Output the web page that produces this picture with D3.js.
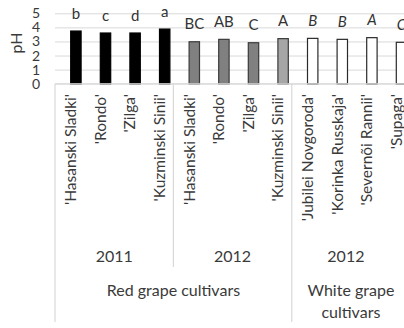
<!DOCTYPE html>
<html>
<head>
<meta charset="utf-8">
<script src="https://cdn.jsdelivr.net/npm/d3@7/dist/d3.min.js"></script>
<style>
  html, body { margin: 0; padding: 0; background: #fff; }
  svg { display: block; font-family: Lato, "Open Sans", sans-serif; }
</style>
</head>
<body>
<svg id="chart" width="404" height="328"></svg>
<script>
// Cultivars in plotting order
const cultivars = ["'Hasanski Sladki'", "'Rondo'", "'Zilga'", "'Kuzminski Sinii'",
                   "'Hasanski Sladki'", "'Rondo'", "'Zilga'", "'Kuzminski Sinii'",
                   "'Jubilei Novgoroda'", "'Korinka Russkaja'", "'Severnõi Rannii'", "'Supaga'"];
// Season of each bar
const years = ["2011", "2011", "2011", "2011", "2012", "2012", "2012", "2012", "2012", "2012", "2012", "2012"];
// Grape colour group of each bar
const grapeGroups = ["Red grape cultivars", "Red grape cultivars", "Red grape cultivars", "Red grape cultivars",
                     "Red grape cultivars", "Red grape cultivars", "Red grape cultivars", "Red grape cultivars",
                     "White grape cultivars", "White grape cultivars", "White grape cultivars", "White grape cultivars"];
// Juice pH
const pH = [3.74, 3.60, 3.60, 3.88, 2.98, 3.15, 2.91, 3.20, 3.22, 3.15, 3.27, 2.94];
// Significance letters
const letters = ["b", "c", "d", "a", "BC", "AB", "C", "A", "B", "B", "A", "C"];
const yTicks = [0, 1, 2, 3, 4, 5];

// Styling per bar
const fills = ["#000", "#000", "#000", "#000", "#808080", "#808080", "#808080", "#a6a6a6", "#fff", "#fff", "#fff", "#fff"];
const strokes = ["#000", "#000", "#000", "#000", "#3a3a3a", "#3a3a3a", "#3a3a3a", "#3a3a3a", "#2a2a2a", "#2a2a2a", "#2a2a2a", "#2a2a2a"];
const textColor = "#3a3a3a";
const gridColor = "#d9d9d9";

const svg = d3.select("#chart");
const left = 55, catW = 29.6;
const idx = d3.range(cultivars.length);

const x = d3.scaleBand().domain(idx).range([left, left + catW * idx.length]).padding(0);
const y = d3.scaleLinear().domain([0, 5]).range([83.7, 13.3]);
const barW = 10.4, barShift = 6.1;

// Horizontal gridlines and y tick labels
const yAxis = svg.append("g")
  .attr("transform", `translate(${left},0)`)
  .call(d3.axisLeft(y).tickValues(yTicks).tickFormat(d3.format("d"))
    .tickSize(-(404 - left)).tickPadding(15));
yAxis.select(".domain").remove();
yAxis.selectAll(".tick line").attr("stroke", gridColor).attr("stroke-width", 1);
yAxis.selectAll(".tick text")
  .attr("fill", textColor).attr("font-size", "14px").attr("font-family", "Lato");

svg.append("text")
  .attr("transform", `translate(16,43) rotate(-90)`)
  .attr("text-anchor", "middle").attr("dy", "0.35em")
  .attr("font-size", "16px").attr("fill", textColor)
  .text("pH");

// Bars
svg.append("g").selectAll("rect").data(idx).join("rect")
  .attr("x", i => x(i) + x.bandwidth() / 2 + barShift - barW / 2)
  .attr("y", i => y(pH[i]))
  .attr("width", barW)
  .attr("height", i => y(0) - y(pH[i]))
  .attr("fill", i => fills[i])
  .attr("stroke", i => strokes[i])
  .attr("stroke-width", 1.2);

// Letters above bars
svg.append("g").selectAll("text").data(idx).join("text")
  .attr("x", i => x(i) + x.bandwidth() / 2 + barShift)
  .attr("y", i => y(pH[i]) - 12.3)
  .attr("text-anchor", "middle")
  .attr("font-size", "15px")
  .attr("font-style", i => grapeGroups[i].startsWith("White") ? "italic" : "normal")
  .attr("fill", "#333")
  .text(i => letters[i]);

// Category axis line
svg.append("line")
  .attr("x1", left).attr("x2", 404).attr("y1", y(0)).attr("y2", y(0))
  .attr("stroke", gridColor);

// Rotated cultivar names
svg.append("g").selectAll("text").data(idx).join("text")
  .attr("transform", i => `translate(${x(i) + x.bandwidth() / 2 + 1},94) rotate(-90)`)
  .attr("text-anchor", "end").attr("dy", "0.35em")
  .attr("font-size", "15.5px").attr("fill", textColor)
  .text(i => cultivars[i]);

// Group spans for the two lower label rows
function spans(keys) {
  const out = [];
  keys.forEach((k, i) => {
    const prev = out[out.length - 1];
    const sameRun = prev && prev.key === k && (keys === years ? grapeGroups[i] === grapeGroups[prev.start] : true);
    if (sameRun) prev.end = i; else out.push({ key: k, start: i, end: i });
  });
  return out;
}
const yearSpans = spans(years);
const groupSpans = spans(grapeGroups);
const x0 = s => x(s.start);
const x1 = s => Math.min(x(s.end) + x.bandwidth(), 404);

// Divider lines
const dividers = svg.append("g").attr("stroke", gridColor).attr("stroke-width", 1.2);
dividers.append("line").attr("x1", left).attr("x2", left).attr("y1", y(0)).attr("y2", 322);
yearSpans.slice(1).forEach(s => {
  const isGroupStart = groupSpans.some(g => g.start === s.start);
  dividers.append("line").attr("x1", x0(s)).attr("x2", x0(s))
    .attr("y1", y(0)).attr("y2", isGroupStart ? 322 : 267);
});

// Year labels
svg.append("g").selectAll("text").data(yearSpans).join("text")
  .attr("x", s => (x0(s) + x1(s)) / 2 - (x1(s) === 404 ? 2 : 0))
  .attr("y", 256).attr("dy", "0.35em")
  .attr("text-anchor", "middle").attr("font-size", "16px").attr("fill", textColor)
  .text(s => s.key);

// Grape group labels (wrapped to fit the span)
groupSpans.forEach(s => {
  const cx = (x0(s) + x1(s)) / 2 + (x1(s) === 404 ? 3 : 0);
  const words = s.key.split(" ");
  const lines = (x1(s) - x0(s)) < 150 ? [words.slice(0, 2).join(" "), words.slice(2).join(" ")] : [s.key];
  lines.forEach((ln, j) => {
    svg.append("text")
      .attr("x", cx).attr("y", 290 + j * 22).attr("dy", "0.35em")
      .attr("text-anchor", "middle").attr("font-size", "16px").attr("fill", textColor)
      .text(ln);
  });
});
</script>
</body>
</html>
